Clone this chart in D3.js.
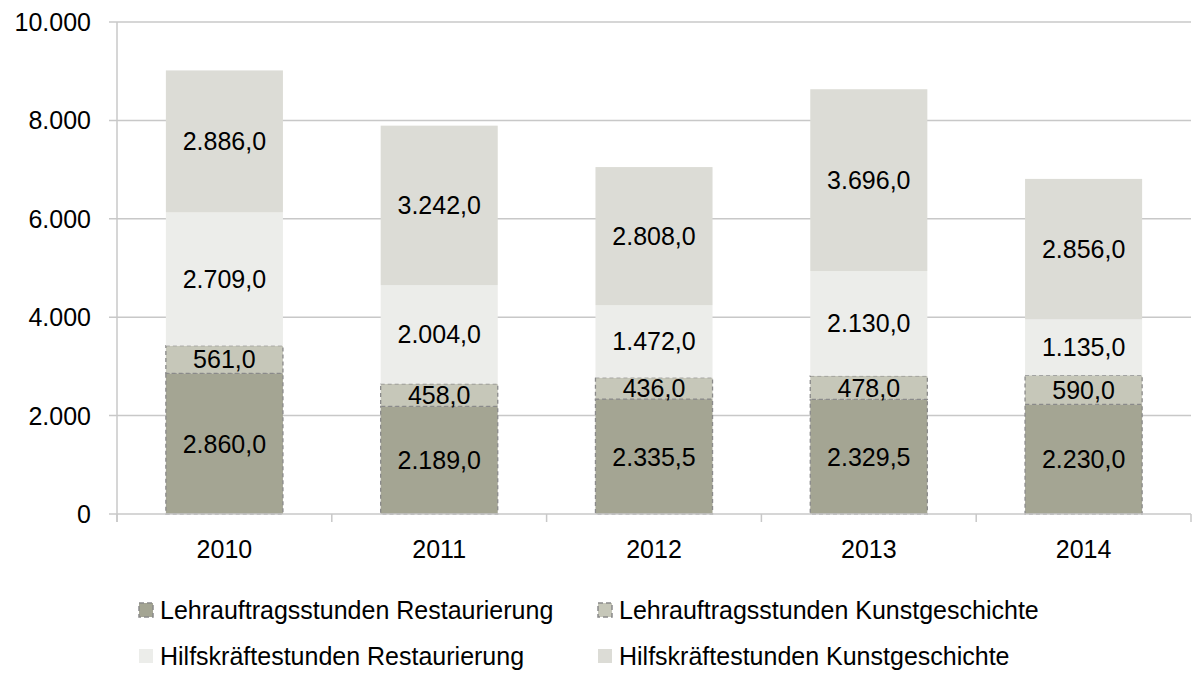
<!DOCTYPE html>
<html lang="de">
<head>
<meta charset="UTF-8" />
<title>Stunden 2010-2014</title>
<script src="https://d3js.org/d3.v7.min.js"></script>
<style>
  body { margin: 0; background: #fff; font-family: "Liberation Sans", Arial, sans-serif; }
  svg text { fill: #000; }
</style>
</head>
<body>
<div id="chart"></div>
<script>
  // Data
  const years = ["2010", "2011", "2012", "2013", "2014"];
  const seriesNames = [
    "Lehrauftragsstunden Restaurierung",
    "Lehrauftragsstunden Kunstgeschichte",
    "Hilfskräftestunden Restaurierung",
    "Hilfskräftestunden Kunstgeschichte"
  ];
  const lehrRest  = [2860.0, 2189.0, 2335.5, 2329.5, 2230.0];
  const lehrKunst = [561.0, 458.0, 436.0, 478.0, 590.0];
  const hilfRest  = [2709.0, 2004.0, 1472.0, 2130.0, 1135.0];
  const hilfKunst = [2886.0, 3242.0, 2808.0, 3696.0, 2856.0];
  const yTicks = [0, 2000, 4000, 6000, 8000, 10000];

  const colors = ["#a4a593", "#c6c7b9", "#ecedea", "#dcdcd6"];
  const dashed = [true, true, false, false];

  const width = 1193, height = 673;
  const x0 = 117, x1 = 1191, yTop = 22, yBottom = 514;
  const fs = "25px";

  const svg = d3.select("#chart").append("svg")
    .attr("width", width).attr("height", height);

  const x = d3.scaleBand().domain(years).range([x0, x1]).paddingInner(0.455).paddingOuter(0.2275);
  const y = d3.scaleLinear().domain([0, 10000]).range([yBottom, yTop]);

  const fmtDe = d3.formatLocale({ decimal: ",", thousands: ".", grouping: [3], currency: ["", "€"] });
  const fmtTick = fmtDe.format(",.0f");
  const fmtVal = fmtDe.format(",.1f");

  // gridlines
  svg.append("g").selectAll("line").data(yTicks.slice(1)).join("line")
    .attr("x1", x0 - 8).attr("x2", x1)
    .attr("y1", d => y(d)).attr("y2", d => y(d))
    .attr("stroke", "#c8c8c8").attr("stroke-width", 1.5);

  // stacked data
  const table = years.map((yr, i) => ({
    year: yr,
    [seriesNames[0]]: lehrRest[i],
    [seriesNames[1]]: lehrKunst[i],
    [seriesNames[2]]: hilfRest[i],
    [seriesNames[3]]: hilfKunst[i]
  }));
  const stacked = d3.stack().keys(seriesNames)(table);

  stacked.forEach((layer, si) => {
    const g = svg.append("g");
    g.selectAll("rect").data(layer).join("rect")
      .attr("x", d => x(d.data.year))
      .attr("width", x.bandwidth())
      .attr("y", d => y(d[1]))
      .attr("height", d => y(d[0]) - y(d[1]))
      .attr("fill", colors[si])
      .attr("stroke", dashed[si] ? "#8a8a8a" : "none")
      .attr("stroke-width", dashed[si] ? 1.3 : 0)
      .attr("stroke-dasharray", dashed[si] ? "4,3" : null);
  });

  // labels
  stacked.forEach((layer) => {
    svg.append("g").selectAll("text").data(layer).join("text")
      .attr("x", d => x(d.data.year) + x.bandwidth() / 2)
      .attr("y", d => (y(d[0]) + y(d[1])) / 2)
      .attr("dy", "0.36em")
      .attr("text-anchor", "middle")
      .style("font-size", fs)
      .text(d => fmtVal(d[1] - d[0]));
  });

  // axes
  svg.append("line").attr("x1", x0).attr("x2", x0).attr("y1", yTop).attr("y2", yBottom + 8)
    .attr("stroke", "#c8c8c8").attr("stroke-width", 1.5);
  svg.append("line").attr("x1", x0 - 8).attr("x2", x1).attr("y1", yBottom).attr("y2", yBottom)
    .attr("stroke", "#c8c8c8").attr("stroke-width", 1.5);
  const catTicks = years.map(yr => x(yr) - x.step() * x.paddingInner() / 2).concat([x1]);
  svg.append("g").selectAll("line").data(catTicks).join("line")
    .attr("x1", d => d).attr("x2", d => d)
    .attr("y1", yBottom).attr("y2", yBottom + 8)
    .attr("stroke", "#c8c8c8").attr("stroke-width", 1.5);

  svg.append("g").selectAll("text").data(yTicks).join("text")
    .attr("x", 91).attr("y", d => y(d)).attr("dy", "0.36em")
    .attr("text-anchor", "end").style("font-size", fs)
    .text(d => fmtTick(d));

  svg.append("g").selectAll("text").data(years).join("text")
    .attr("x", d => x(d) + x.bandwidth() / 2).attr("y", 549).attr("dy", "0.36em")
    .attr("text-anchor", "middle").style("font-size", fs)
    .text(d => d);

  // legend
  const legendPos = [[138, 610], [597, 610], [138, 656], [597, 656]];
  seriesNames.forEach((name, i) => {
    const [lx, ly] = legendPos[i];
    svg.append("rect").attr("x", lx + 1).attr("y", ly - 7).attr("width", 14).attr("height", 14)
      .attr("fill", colors[i])
      .attr("stroke", dashed[i] ? "#8a8a8a" : "none")
      .attr("stroke-width", 1.5)
      .attr("stroke-dasharray", dashed[i] ? "5,3" : null);
    svg.append("text").attr("x", lx + 22).attr("y", ly).attr("dy", "0.36em")
      .style("font-size", fs).text(name);
  });
</script>
</body>
</html>
